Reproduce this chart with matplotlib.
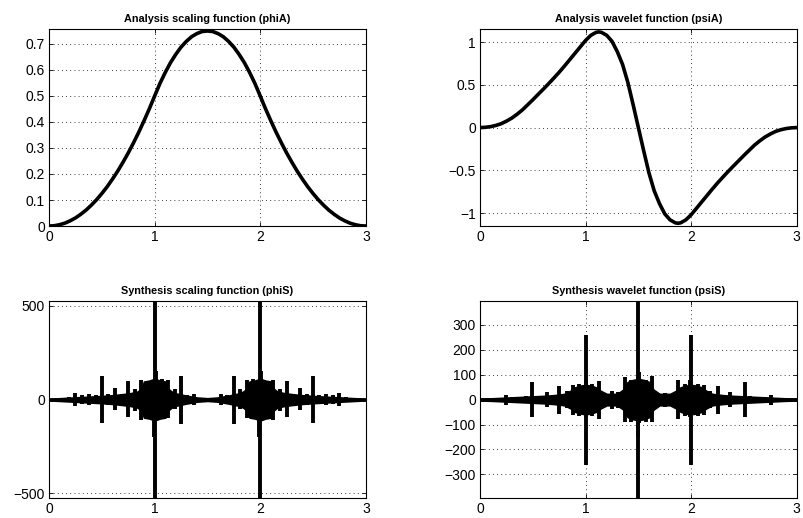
import numpy as np
import matplotlib.pyplot as plt
from matplotlib.ticker import FuncFormatter

plt.rcParams['font.family'] = ['Liberation Sans', 'DejaVu Sans']

# Analysis scaling function (phiA)
phiA_x = [0, 0.05, 0.1, 0.15, 0.2, 0.25, 0.3, 0.35, 0.4, 0.45, 0.5, 0.55, 0.6, 0.65, 0.7, 0.75, 0.8, 0.85, 0.9, 0.95,
          1.0, 1.05, 1.1, 1.15, 1.2, 1.25, 1.3, 1.35, 1.4, 1.45, 1.5, 1.55, 1.6, 1.65, 1.7, 1.75, 1.8, 1.85, 1.9, 1.95,
          2.0, 2.05, 2.1, 2.15, 2.2, 2.25, 2.3, 2.35, 2.4, 2.45, 2.5, 2.55, 2.6, 2.65, 2.7, 2.75, 2.8, 2.85, 2.9, 2.95, 3.0]
phiA_y = [0, 0.001, 0.005, 0.011, 0.02, 0.031, 0.045, 0.061, 0.08, 0.101, 0.125, 0.151, 0.18, 0.211, 0.245, 0.281, 0.32, 0.361, 0.405, 0.451,
          0.5, 0.548, 0.59, 0.628, 0.66, 0.688, 0.71, 0.728, 0.74, 0.748, 0.75, 0.748, 0.74, 0.728, 0.71, 0.688, 0.66, 0.628, 0.59, 0.548,
          0.5, 0.451, 0.405, 0.361, 0.32, 0.281, 0.245, 0.211, 0.18, 0.151, 0.125, 0.101, 0.08, 0.061, 0.045, 0.031, 0.02, 0.011, 0.005, 0.001, 0]

# Analysis wavelet function (psiA)
psiA_x = [0, 0.05, 0.1, 0.15, 0.2, 0.25, 0.3, 0.35, 0.4, 0.45, 0.5, 0.55, 0.6, 0.65, 0.7, 0.75, 0.8, 0.85, 0.9, 0.95,
          1.0, 1.05, 1.1, 1.125, 1.15, 1.2, 1.25, 1.3, 1.35, 1.4, 1.45, 1.5,
          1.55, 1.6, 1.65, 1.7, 1.75, 1.8, 1.85, 1.875, 1.9, 1.95, 2.0,
          2.05, 2.1, 2.15, 2.2, 2.25, 2.3, 2.35, 2.4, 2.45, 2.5, 2.55, 2.6, 2.65, 2.7, 2.75, 2.8, 2.85, 2.9, 2.95, 3.0]
psiA_y = [0, 0.003, 0.011, 0.025, 0.045, 0.075, 0.11, 0.155, 0.205, 0.265, 0.325, 0.388, 0.45, 0.514, 0.58, 0.648, 0.72, 0.795, 0.87, 0.945,
          1.02, 1.08, 1.115, 1.12, 1.115, 1.08, 1.01, 0.89, 0.74, 0.53, 0.27, 0,
          -0.27, -0.53, -0.74, -0.89, -1.01, -1.08, -1.115, -1.12, -1.115, -1.08, -1.02,
          -0.945, -0.87, -0.795, -0.72, -0.648, -0.58, -0.514, -0.45, -0.388, -0.325, -0.265, -0.205, -0.155, -0.11, -0.075, -0.045, -0.025, -0.011, -0.003, 0]

# Synthesis scaling function (phiS): envelope of the dense oscillation + spikes
phiS_env_x = [0, 0.1, 0.2, 0.3, 0.4, 0.5, 0.6, 0.7, 0.78, 0.84, 0.88, 0.9, 0.95, 1.0, 1.05, 1.1, 1.12, 1.16, 1.2, 1.3, 1.4, 1.5,
              1.6, 1.7, 1.8, 1.84, 1.88, 1.9, 1.95, 2.0, 2.05, 2.1, 2.12, 2.16, 2.22, 2.3, 2.4, 2.5, 2.6, 2.7, 2.8, 2.9, 3.0]
phiS_env_y = [3, 6, 9, 12, 15, 18, 22, 28, 34, 42, 60, 95, 100, 110, 100, 95, 60, 42, 32, 20, 10, 6,
              10, 20, 32, 42, 60, 95, 100, 110, 100, 95, 60, 42, 34, 28, 22, 18, 15, 12, 9, 6, 3]
phiS_spk_x = [0.19, 0.25, 0.31, 0.375, 0.44, 0.5, 0.56, 0.625, 0.69, 0.75, 0.81, 0.875, 0.99, 1.0, 1.01, 1.07, 1.125, 1.19, 1.25, 1.31, 1.375,
              1.625, 1.69, 1.75, 1.81, 1.875, 1.93, 1.99, 2.0, 2.01, 2.125, 2.19, 2.25, 2.31, 2.375, 2.44, 2.5, 2.56, 2.625, 2.69, 2.75, 2.81]
phiS_spk_up = [12, 36, 22, 28, 24, 128, 30, 60, 28, 97, 55, 105, 70, 560, 150, 110, 102, 58, 128, 22, 30,
               30, 22, 128, 58, 102, 110, 70, 560, 150, 105, 55, 97, 28, 60, 30, 128, 24, 28, 22, 36, 12]
phiS_spk_dn = [-12, -36, -22, -28, -24, -125, -30, -58, -28, -95, -60, -107, -200, -560, -80, -90, -97, -50, -132, -22, -30,
               -30, -22, -132, -50, -97, -90, -200, -560, -80, -107, -60, -95, -28, -58, -30, -125, -24, -28, -22, -36, -12]

# Synthesis wavelet function (psiS)
psiS_env_x = [0, 0.1, 0.2, 0.3, 0.4, 0.5, 0.6, 0.7, 0.8, 0.86, 0.9, 0.95, 1.0, 1.05, 1.1, 1.14, 1.2, 1.3, 1.36, 1.4,
              1.45, 1.5, 1.55, 1.6, 1.64, 1.7, 1.8, 1.86, 1.9, 1.95, 2.0, 2.05, 2.1, 2.14, 2.2, 2.3, 2.4, 2.5, 2.6, 2.7, 2.8, 2.9, 3.0]
psiS_env_y = [3, 4, 6, 8, 10, 12, 14, 17, 22, 35, 48, 55, 58, 55, 48, 35, 22, 22, 40, 70,
              78, 82, 78, 70, 40, 22, 22, 35, 48, 55, 58, 55, 48, 35, 22, 17, 14, 12, 10, 8, 6, 4, 3]
psiS_spk_x = [0.245, 0.3, 0.38, 0.44, 0.49, 0.56, 0.63, 0.69, 0.75, 0.82, 0.88, 0.94, 1.0, 1.008, 1.06, 1.127, 1.25, 1.31, 1.375, 1.43,
              1.493, 1.5, 1.508, 1.57, 1.625, 1.69, 1.75, 1.873, 1.94, 1.992, 2.0, 2.06, 2.12, 2.18, 2.25, 2.31, 2.37, 2.44, 2.51, 2.56, 2.62, 2.7, 2.755]
psiS_spk_up = [20, 10, 12, 14, 69, 12, 30, 15, 56, 33, 60, 62, 258, 80, 62, 76, 36, 29, 89, 80,
               95, 400, 110, 80, 96, 28, 28, 79, 62, 80, 258, 62, 60, 33, 56, 15, 30, 12, 69, 14, 12, 10, 20]
psiS_spk_dn = [-20, -10, -12, -14, -71, -12, -31, -15, -57, -33, -60, -65, -262, -70, -65, -77, -37, -33, -91, -90,
               -150, -400, -95, -90, -91, -28, -28, -77, -65, -70, -262, -65, -60, -33, -57, -15, -31, -12, -71, -14, -12, -10, -20]


def style(ax, title, yticks, ylim):
    ax.set_xlim(0, 3)
    ax.set_ylim(ylim)
    ax.set_xticks([0, 1, 2, 3])
    ax.set_yticks(yticks)
    fmt = FuncFormatter(lambda v, p: f'{v:g}'.replace('-', '\u2212'))
    ax.xaxis.set_major_formatter(fmt)
    ax.yaxis.set_major_formatter(fmt)
    ax.grid(True, color='black', linestyle=(0, (1, 4)), linewidth=0.6)
    ax.tick_params(direction='in', length=3, width=0.6, top=True, right=True,
                   labelsize=10, pad=3)
    for s in ax.spines.values():
        s.set_linewidth(0.8)
    ax.set_title(title, fontsize=7.8, fontweight='bold', pad=5)


fig = plt.figure(figsize=(8.04, 5.18), dpi=100)
w, h = 0.394, 0.380
ax1 = fig.add_axes([0.061, 0.5637, w, h])
ax2 = fig.add_axes([0.597, 0.5637, w, h])
ax3 = fig.add_axes([0.061, 0.0386, w, h])
ax4 = fig.add_axes([0.597, 0.0386, w, h])

ax1.plot(phiA_x, phiA_y, color='black', linewidth=2.6)
style(ax1, 'Analysis scaling function (phiA)', np.arange(0, 0.71, 0.1), (0, 0.757))

ax2.plot(psiA_x, psiA_y, color='black', linewidth=2.6)
style(ax2, 'Analysis wavelet function (psiA)', [-1, -0.5, 0, 0.5, 1], (-1.152, 1.152))

for ax, ex, ey, sx, su, sd in [(ax3, phiS_env_x, phiS_env_y, phiS_spk_x, phiS_spk_up, phiS_spk_dn),
                               (ax4, psiS_env_x, psiS_env_y, psiS_spk_x, psiS_spk_up, psiS_spk_dn)]:
    ey = np.array(ey)
    ax.fill_between(ex, -ey, ey, color='black', linewidth=1.5, edgecolor='black')
    ax.plot([0, 3], [0, 0], color='black', linewidth=2.6)
    ax.vlines(sx, sd, su, color='black', linewidth=2.8)

style(ax3, 'Synthesis scaling function (phiS)', [-500, 0, 500], (-525, 525))
style(ax4, 'Synthesis wavelet function (psiS)', np.arange(-300, 301, 100), (-395, 395))

fig.savefig('out.png', dpi=100)
